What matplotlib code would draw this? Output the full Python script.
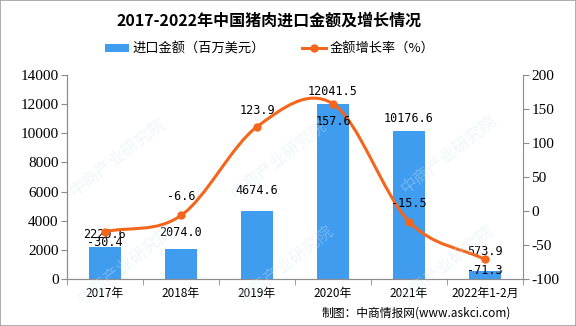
import numpy as np
import matplotlib
matplotlib.use("Agg")
import matplotlib.pyplot as plt
from matplotlib.path import Path
from matplotlib.patches import PathPatch, Rectangle
from matplotlib.lines import Line2D
from matplotlib.patches import Patch

plt.rcParams['font.family'] = ['Noto Sans CJK SC', 'DejaVu Sans']

categories = ["2017年", "2018年", "2019年", "2020年", "2021年", "2022年1-2月"]
amount = [2220.6, 2074.0, 4674.6, 12041.5, 10176.6, 573.9]
growth = [-30.4, -6.6, 123.9, 157.6, -15.5, -71.3]
amount_labels = ["2220.6", "2074.0", "4674.6", "12041.5", "10176.6", "573.9"]
growth_labels = ["-30.4", "-6.6", "123.9", "157.6", "-15.5", "-71.3"]
left_ticks = [0, 2000, 4000, 6000, 8000, 10000, 12000, 14000]
right_ticks = [-100, -50, 0, 50, 100, 150, 200]

BLUE = '#3F9CEF'
ORANGE = '#F4661B'
GRAY = '#8C8C8C'

W, H = 576, 326
fig = plt.figure(figsize=(W/100, H/100), dpi=100)
fig.patch.set_facecolor('white')
fig.patches.append(Rectangle((0, 0), 1, 1, transform=fig.transFigure, fill=False,
                             edgecolor='#A0A0A0', linewidth=1.2))

ax = fig.add_axes([67/W, 1-279/H, (523-67)/W, (279-75)/H])
ax2 = ax.twinx()

x = np.arange(len(categories))
ax.bar(x, amount, width=0.41, color=BLUE, zorder=2)
ax.set_xlim(-0.5, len(categories)-0.5)
ax.set_ylim(0, 14000)
ax.set_yticks(left_ticks)
ax.set_yticklabels([str(t) for t in left_ticks], fontfamily='Liberation Serif', fontsize=11)
ax.set_xticks(x)
ax.set_xticklabels(categories, fontsize=8.5)
ax.set_xticks(np.arange(-0.5, len(categories)), minor=True)
ax.tick_params(axis='x', which='major', length=0, pad=6)
ax.tick_params(axis='x', which='minor', length=4, color=GRAY)
ax.tick_params(axis='y', length=4, color=GRAY, pad=2)

for a in (ax, ax2):
    a.spines['top'].set_visible(False)
    for s in ('left', 'right', 'bottom'):
        a.spines[s].set_color(GRAY)
ax.spines['right'].set_visible(False)

ax2.set_ylim(-100, 200)
ax2.set_yticks(right_ticks)
ax2.set_yticklabels([str(t) for t in right_ticks], fontfamily='Liberation Serif', fontsize=11)
ax2.tick_params(axis='y', length=4, color=GRAY, pad=2)

# smooth (Excel-like) curve through the data points, cubic Bezier with Catmull-Rom tangents
pts = np.column_stack([x, growth]).astype(float)
n = len(pts)
tang = np.zeros_like(pts)
for i in range(n):
    if i == 0:
        tang[i] = pts[1] - pts[0]
    elif i == n-1:
        tang[i] = pts[-1] - pts[-2]
    else:
        tang[i] = (pts[i+1] - pts[i-1]) / 2
verts = [tuple(pts[0])]
codes = [Path.MOVETO]
for i in range(n-1):
    c1 = pts[i] + tang[i]/3
    c2 = pts[i+1] - tang[i+1]/3
    verts += [tuple(c1), tuple(c2), tuple(pts[i+1])]
    codes += [Path.CURVE4]*3
ax2.add_patch(PathPatch(Path(verts, codes), fill=False, edgecolor=ORANGE, lw=2.2, zorder=3))
ax2.plot(x, growth, 'o', color=ORANGE, ms=5, zorder=4)

lab_font = dict(fontfamily='DejaVu Sans Mono', fontsize=8.5, color='black', zorder=6)
amt_off = [9, 12, 15, 9, 9, 14]
for xi, v, s, o in zip(x, amount, amount_labels, amt_off):
    ax.annotate(s, (xi, v), xytext=(0, o), textcoords='offset points', ha='center', va='center', **lab_font)
gr_off = [-8, 14, 12, -13, 13, -8]
for xi, v, s, o in zip(x, growth, growth_labels, gr_off):
    ax2.annotate(s, (xi, v), xytext=(0, o), textcoords='offset points', ha='center', va='center', **lab_font)

# watermarks (kept inside the picture)
wm_pts = [(72, 193), (233, 195), (403, 190), (80, 300), (240, 300), (400, 300)]
for px, py in wm_pts:
    fig.text(px/W, 1-py/H, "中商产业研究院", rotation=38, rotation_mode='anchor', ha='left', va='center',
             fontsize=12, color='#D3E4F2', alpha=0.35, zorder=10)

fig.text(269/W, 1-21/H, "2017-2022年中国猪肉进口金额及增长情况", ha='center', va='center',
         fontsize=11.5, fontweight='bold')

handles = [Patch(facecolor=BLUE, edgecolor='none'),
           Line2D([0], [0], color=ORANGE, lw=2.2, marker='o', ms=5)]
fig.legend(handles, ["进口金额（百万美元）", "金额增长率（%）"], loc='center', bbox_to_anchor=(270/W, 1-49/H),
           ncol=2, frameon=False, fontsize=9.5, handlelength=1.8, handleheight=0.5, columnspacing=2.8,
           handletextpad=0.3, borderpad=0.2)

fig.text(511/W, 1-313/H, "制图：中商情报网(www.askci.com)", ha='right', va='center', fontsize=8.5)

fig.savefig("out.png", dpi=100)
